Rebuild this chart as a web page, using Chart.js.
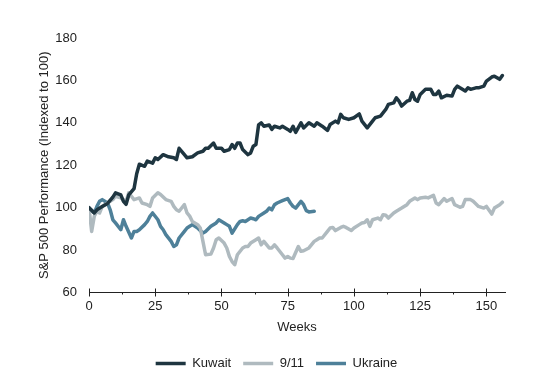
<!DOCTYPE html>
<html>
<head>
<meta charset="utf-8">
<script src="https://cdn.jsdelivr.net/npm/chart.js@4.4.1/dist/chart.umd.min.js"></script>
<style>
  html, body { margin: 0; padding: 0; background: #ffffff; }
  #wrap { width: 550px; height: 383px; }
</style>
</head>
<body>
<div id="wrap"><canvas id="c" width="550" height="383"></canvas></div>
<script>
// ---- Data ----
const seriesNames = ['Kuwait', '9/11', 'Ukraine'];

const kuwaitWeeks = [0,2,3,5,7,9,10,12,13,14,15,17,18,19,21,22,24,25,26,28,30,32,33,34,36,37,39,41,43,44,45,47,48,50,51,53,54,55,56,57,58,60,61,62,63,64,65,66,68,69,70,72,73,75,76,77,78,80,81,83,85,86,88,90,91,93,94,95,96,98,100,102,103,105,107,108,110,112,113,115,116,117,118,120,121,122,123,124,125,127,129,130,131,132,133,135,137,138,139,140,142,143,144,146,147,149,150,152,153,155,156];
const kuwaitValues = [100,97.5,99,100.5,102,105,107,106,103,101.6,106,109,116,120.5,119.5,122,121,123.5,122.7,125,124,123.5,122.7,128,125,123.5,124,125.8,126.6,128,128,130.5,128,128,126.6,127.4,129.8,128,130.5,130.5,127.4,125,125.8,129,129.8,139,140,138.4,139,136.9,138.4,137.6,138.4,136.9,136,138.4,135.5,140,137.6,140,138.4,140,138.4,136.4,139.2,140.8,140,144,142.4,141.6,142.4,144.2,140.8,137.6,140.8,142.4,143.2,146.3,148.7,149.4,151.8,150.2,147.9,150.2,150.6,154.2,151,150.2,153.4,155.8,155.8,153.4,153.4,155,151.8,153,152.6,155.8,157.3,156.5,155,156.5,155.8,156.5,156.5,157.3,159.7,161.6,162,160.5,162.3];

const nineElevenWeeks = [0,1,2,3,4,5,7,9,10,12,14,15,16,17,19,20,22,23,24,26,27,29,31,32,33,34,36,37,38,39,41,42,43,44,46,47,48,49,51,52,53,54,55,56,58,59,60,61,63,64,65,66,68,69,70,71,73,74,75,76,77,79,80,81,83,85,86,87,88,90,91,92,93,95,96,97,99,100,102,103,104,105,106,107,109,110,111,112,113,115,116,118,120,121,123,124,125,127,128,130,131,132,134,135,137,138,140,141,142,144,145,147,149,150,152,153,155,156];
const nineElevenValues = [100,88.8,96,98.3,97.5,100.6,102.2,103.8,105.4,104.6,103,107,105.4,103.8,104.6,102.2,101.4,100.6,104.6,107,106.2,103.8,103,100.6,99,98.3,101.4,97.5,96,93.5,92,90.4,84.1,77.8,78.1,81,84.9,85.7,83.3,81,77,74.6,73.1,77.8,81,81.7,81.7,83.3,84.9,85.7,82.5,84.1,81,81,82.5,81,77.8,76.2,77,76.2,76,81.7,79.4,79.7,81,84.1,84.9,85.7,85.7,88.8,90.4,90.7,89.2,90.7,91.2,90.7,89.2,90.4,92,92.8,93,94.3,91.2,94.3,95.1,94.3,96.7,96.4,95.1,97.5,98.3,99.8,101.4,103,104.6,103.8,104.6,104.9,104.6,105.8,102.2,101.4,104.3,103,104.3,101.4,100.2,100.6,103.8,103.8,103,100.6,99.8,100.6,97,99.8,101.4,102.6];

const ukraineWeeks = [0,2,3,4,5,7,8,9,10,12,13,14,16,17,18,19,21,22,23,24,26,27,28,29,31,32,33,34,36,37,38,39,41,43,44,46,48,49,51,52,53,54,56,57,58,59,61,62,63,64,66,67,68,69,70,71,73,75,76,77,78,80,81,82,83,85];
const ukraineValues = [100,97.5,100.6,103,103.8,102.2,99,94.3,92.8,89.6,94.3,91.2,85.7,88.8,88.8,89.6,92,93.5,95.9,97.5,94.3,91.2,89.6,87.3,84.1,81.7,82.5,85.7,88.8,90.4,91.2,92,90.4,88,88.8,91.2,92.8,94.3,92.8,92,91.2,88,92,93.5,93.8,93.5,95.1,94.8,94.3,95.9,97.5,98.3,99.8,99,101.4,102.2,103.3,104.3,102.2,100.6,99.8,103,101.4,98.6,98,98.3];

const xTickStep = 12.5;   // minor tick spacing (labels every 25 weeks)
const xLabelStep = 25;
const yTickStep = 20;

// ---- Styling ----
const colors = ['#1e3540', '#afbabf', '#4e8099'];
const textColor = '#222222';
const axisColor = '#222222';
const fontFamily = '"Liberation Sans", Arial, sans-serif';

function toPoints(weeks, values) {
  return weeks.map((w, i) => ({ x: w, y: values[i] }));
}

// Tick marks crossing the x axis line (major every 25, minor in between)
const tickMarks = {
  id: 'tickMarks',
  afterDraw(chart) {
    const s = chart.scales.x;
    const ctx = chart.ctx;
    const y = s.top;
    ctx.save();
    ctx.strokeStyle = axisColor;
    ctx.lineWidth = 1;
    s.ticks.forEach(t => {
      const px = Math.round(s.getPixelForValue(t.value)) + 0.5;
      const major = t.value % xLabelStep === 0;
      ctx.beginPath();
      ctx.moveTo(px, major ? y - 4 : y);
      ctx.lineTo(px, major ? y + 4 : y + 2);
      ctx.stroke();
    });
    ctx.restore();
  }
};

// Nudge the legend row to sit where the reference places it
const legendShift = {
  id: 'legendShift',
  afterLayout(chart) {
    if (chart.legend) {
      chart.legend.left += 9;
      chart.legend.right += 9;
    }
  }
};

Chart.defaults.font.family = fontFamily;
Chart.defaults.font.size = 13;
Chart.defaults.color = textColor;

const datasets = [
  { label: seriesNames[0], data: toPoints(kuwaitWeeks, kuwaitValues) },
  { label: seriesNames[1], data: toPoints(nineElevenWeeks, nineElevenValues) },
  { label: seriesNames[2], data: toPoints(ukraineWeeks, ukraineValues) }
].map((d, i) => Object.assign(d, {
  borderColor: colors[i],
  backgroundColor: colors[i],
  borderWidth: 3.5,
  pointRadius: 0,
  tension: 0,
  borderJoinStyle: 'round',
  borderCapStyle: 'round',
  fill: false
}));

new Chart(document.getElementById('c'), {
  type: 'line',
  data: { datasets },
  options: {
    responsive: false,
    animation: false,
    layout: { padding: { top: 38, right: 45, bottom: 3, left: 30 } },
    plugins: {
      tooltip: { enabled: false },
      legend: {
        position: 'bottom',
        labels: {
          usePointStyle: true,
          pointStyle: 'line',
          pointStyleWidth: 30,
          boxHeight: 13,
          padding: 12,
          color: textColor,
          font: { size: 13 }
        }
      }
    },
    scales: {
      x: {
        type: 'linear',
        min: 0,
        max: 157,
        grid: { display: false, drawTicks: false },
        border: { display: true, color: axisColor, width: 1 },
        ticks: {
          stepSize: xTickStep,
          includeBounds: false,
          autoSkip: false,
          maxRotation: 0,
          padding: 6,
          color: textColor,
          callback: v => (v % xLabelStep === 0 ? String(v) : '')
        },
        title: { display: true, text: 'Weeks', color: textColor, font: { size: 13 }, padding: { top: 4, bottom: 10 } },
        afterFit: s => { s.height = 52.5; }
      },
      y: {
        min: 60,
        max: 180,
        grid: { display: false, drawTicks: false },
        border: { display: false },
        ticks: { stepSize: yTickStep, padding: 12, color: textColor },
        title: { display: true, text: 'S&P 500 Performance (Indexed to 100)', color: textColor, font: { size: 13 }, padding: { top: 7, bottom: 0 } },
        afterFit: s => { s.width = 59; }
      }
    }
  },
  plugins: [tickMarks, legendShift]
});
</script>
</body>
</html>
